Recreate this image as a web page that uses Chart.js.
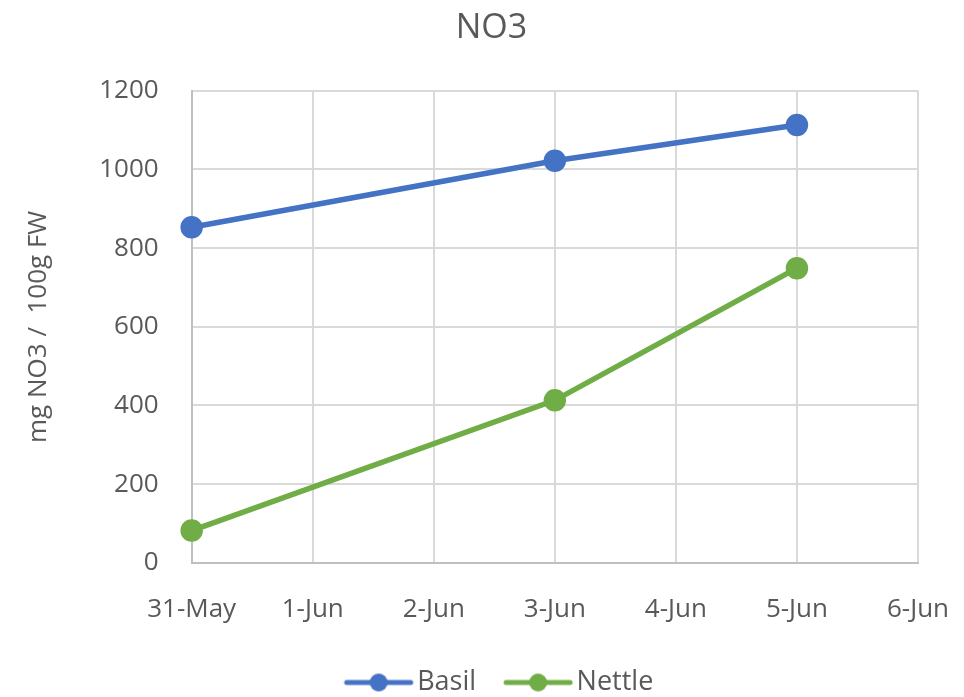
<!DOCTYPE html>
<html>
<head>
<meta charset="utf-8">
<script src="https://cdn.jsdelivr.net/npm/chart.js@4"></script>
<style>
  html, body { margin: 0; padding: 0; background: #fff; }
  #wrap { width: 964px; height: 697px; }
</style>
</head>
<body>
<div id="wrap"><canvas id="chart" width="964" height="697"></canvas></div>
<script>
// data
const days = ['31-May', '1-Jun', '2-Jun', '3-Jun', '4-Jun', '5-Jun', '6-Jun'];
const basil = [853, null, null, 1022, null, 1113, null];
const nettle = [82, null, null, 413, null, 749, null];
const yTicks = [0, 200, 400, 600, 800, 1000, 1200];

const blue = '#4472C4';
const green = '#70AD47';
const textColor = '#595959';
const fontFamily = "'Open Sans', 'Noto Sans', sans-serif";

// legend marker: short line with a dot in the middle, like Excel.
// the marker sits a bit right of the image centre so it hugs its text
function legendMarker(color) {
    const c = document.createElement('canvas');
    c.width = 112; c.height = 20;
    const g = c.getContext('2d');
    const mid = 56 + 12;
    g.strokeStyle = color;
    g.lineWidth = 5;
    g.lineCap = 'round';
    g.beginPath();
    g.moveTo(mid - 32, 10); g.lineTo(mid + 32, 10);
    g.stroke();
    g.fillStyle = color;
    g.beginPath();
    g.arc(mid, 10, 9, 0, Math.PI * 2);
    g.fill();
    return c;
}

new Chart(document.getElementById('chart'), {
    type: 'line',
    data: {
        labels: days,
        datasets: [{
            label: 'Basil',
            data: basil,
            borderColor: blue,
            backgroundColor: blue,
            borderWidth: 5.5,
            pointRadius: 8.5,
            pointHoverRadius: 8.5,
            pointStyle: 'circle',
            spanGaps: true
        }, {
            label: 'Nettle',
            data: nettle,
            borderColor: green,
            backgroundColor: green,
            borderWidth: 5.5,
            pointRadius: 8.5,
            pointHoverRadius: 8.5,
            pointStyle: 'circle',
            spanGaps: true
        }]
    },
    options: {
        responsive: false,
        animation: false,
        layout: { padding: { left: 19, right: 0, top: 8, bottom: -9 } },
        plugins: {
            title: {
                display: true,
                text: 'NO3',
                color: textColor,
                font: { family: fontFamily, size: 34, weight: 'normal' },
                padding: { top: 0, bottom: 42 }
            },
            legend: {
                position: 'bottom',
                labels: {
                    color: textColor,
                    font: { family: fontFamily, size: 27 },
                    usePointStyle: true,
                    pointStyleWidth: 74,
                    padding: 13,
                    generateLabels: function (chart) {
                        return chart.data.datasets.map(function (ds, i) {
                            return {
                                text: ds.label,
                                fontColor: textColor,
                                pointStyle: legendMarker(ds.borderColor),
                                datasetIndex: i,
                                lineWidth: 0,
                                strokeStyle: 'transparent',
                                fillStyle: ds.borderColor
                            };
                        });
                    }
                }
            },
            tooltip: { enabled: false }
        },
        scales: {
            x: {
                type: 'category',
                offset: false,
                grid: { color: '#d9d9d9', lineWidth: 2, drawTicks: false },
                border: { color: '#bfbfbf', width: 2 },
                ticks: {
                    color: textColor,
                    font: { family: fontFamily, size: 26 },
                    padding: 31,
                    maxRotation: 0,
                    autoSkip: false
                },
                afterFit: function (scale) {
                    // room on the right only for half of "6-Jun"
                    scale.paddingRight = 46;
                }
            },
            y: {
                min: 0,
                max: 1200,
                afterBuildTicks: function (axis) {
                    axis.ticks = yTicks.map(function (v) { return { value: v }; });
                },
                grid: { color: '#d9d9d9', lineWidth: 2, drawTicks: false },
                border: { color: '#bfbfbf', width: 2 },
                ticks: {
                    color: textColor,
                    font: { family: fontFamily, size: 26 },
                    padding: 33,
                    callback: function (v) { return String(v); }
                },
                title: {
                    display: true,
                    text: 'mg NO3 /  100g FW',
                    color: textColor,
                    font: { family: fontFamily, size: 26 },
                    padding: { bottom: 12 }
                }
            }
        }
    }
});
</script>
</body>
</html>
